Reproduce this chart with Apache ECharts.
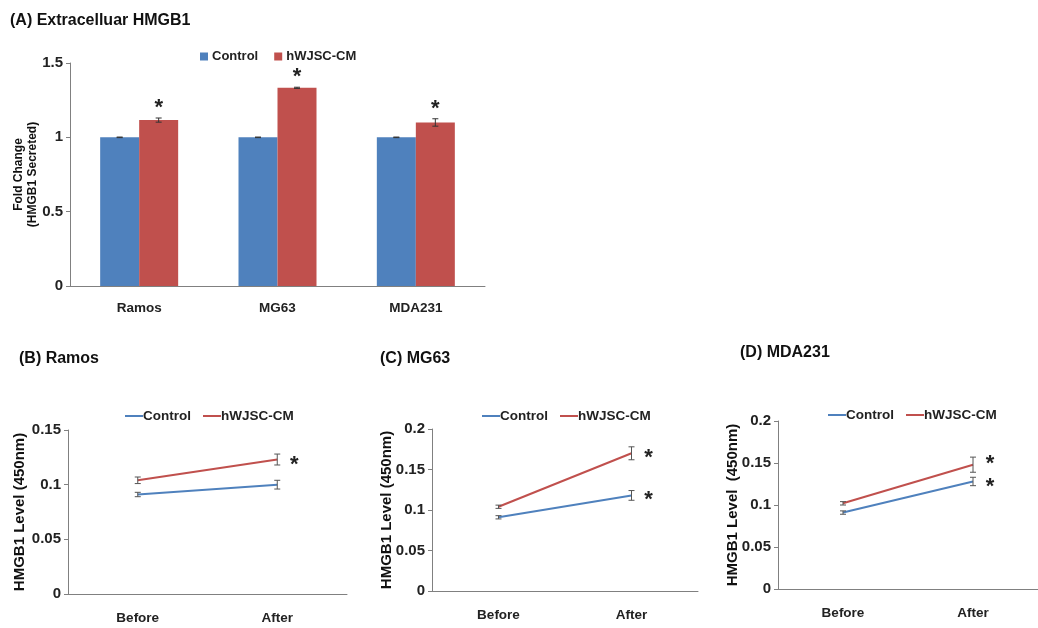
<!DOCTYPE html>
<html>
<head>
<meta charset="utf-8">
<title>HMGB1</title>
<script src="https://cdn.jsdelivr.net/npm/echarts@6/dist/echarts.min.js"></script>
<style>
  html, body { margin: 0; padding: 0; background: #fff; }
  #chart { width: 1038px; height: 628px; }
</style>
</head>
<body>
<div id="chart"></div>
<script>
// (A) extracellular HMGB1, fold change per cell line
const barCategories = ['Ramos', 'MG63', 'MDA231'];
const barControl = [1, 1, 1];
const barControlErr = [0.002, 0.002, 0.002];
const barTreated = [1.116, 1.333, 1.10];
const barTreatedErr = [0.014, 0.004, 0.025];
const barTreatedStar = [1, 1, 1];
const barTicks = { min: 0, max: 1.5, interval: 0.5 };

// (B)-(D) HMGB1 level before / after
const timeCategories = ['Before', 'After'];
const ramosControl = [0.091, 0.100];
const ramosControlErr = [0.002, 0.004];
const ramosControlStar = [0, 0];
const ramosTreated = [0.104, 0.123];
const ramosTreatedErr = [0.003, 0.005];
const ramosTreatedStar = [0, 1];

const mg63Control = [0.091, 0.118];
const mg63ControlErr = [0.002, 0.006];
const mg63ControlStar = [0, 1];
const mg63Treated = [0.104, 0.170];
const mg63TreatedErr = [0.002, 0.008];
const mg63TreatedStar = [0, 1];

const mdaControl = [0.091, 0.128];
const mdaControlErr = [0.002, 0.005];
const mdaControlStar = [0, 1];
const mdaTreated = [0.102, 0.148];
const mdaTreatedErr = [0.002, 0.009];
const mdaTreatedStar = [0, 1];

const lineTicksB = { min: 0, max: 0.15, interval: 0.05 };
const lineTicksCD = { min: 0, max: 0.2, interval: 0.05 };

const BLUE = '#4f81bd';
const RED = '#c0504d';
const FONT = "'Liberation Sans', Arial, sans-serif";
const BAR_W = 39;

const chart = echarts.init(document.getElementById('chart'), null, { renderer: 'canvas' });

// error bars with caps, plus a significance asterisk where flagged
function errorSeries(axis, values, errs, stars, o) {
  return {
    type: 'custom',
    xAxisIndex: axis,
    yAxisIndex: axis,
    z: 10,
    silent: true,
    data: values.map((v, i) => [i, v, errs[i], stars[i]]),
    renderItem(params, api) {
      const i = api.value(0), v = api.value(1), e = api.value(2), s = api.value(3);
      const top = api.coord([i, v + e]);
      const bot = api.coord([i, v - e]);
      const mid = api.coord([i, v]);
      const x = top[0] + o.dx;
      const cw = o.cap;
      const line = { stroke: o.color, lineWidth: 1 };
      const children = [
        { type: 'line', shape: { x1: x, y1: top[1], x2: x, y2: bot[1] }, style: line },
        { type: 'line', shape: { x1: x - cw, y1: top[1], x2: x + cw, y2: top[1] }, style: line },
        { type: 'line', shape: { x1: x - cw, y1: bot[1], x2: x + cw, y2: bot[1] }, style: line }
      ];
      if (s) {
        const sx = o.starAbove ? x : x + o.starDx;
        const sy = o.starAbove ? top[1] - o.starGap : mid[1] + (o.starDy || 0);
        children.push({
          type: 'text', x: sx, y: sy,
          style: { text: '*', fill: '#222', font: 'bold 22px ' + FONT, align: 'center', verticalAlign: 'middle' }
        });
      }
      return { type: 'group', children };
    }
  };
}

function lineSeries(axis, name, values, color) {
  return {
    type: 'line', name, xAxisIndex: axis, yAxisIndex: axis,
    data: values, symbol: 'none', smooth: false,
    lineStyle: { color, width: 2 }, itemStyle: { color }, z: 5
  };
}

const grids = [
  { left: 70, top: 63, width: 415, height: 223 },
  { left: 68, top: 430, width: 279, height: 164 },
  { left: 432, top: 429, width: 266, height: 162 },
  { left: 778, top: 421, width: 267, height: 168 }
];

const axisLine = { lineStyle: { color: '#808080', width: 1 } };

function xAxisFor(i, data) {
  return {
    type: 'category', gridIndex: i, data,
    axisLine: axisLine, axisTick: { show: false },
    axisLabel: { margin: i === 0 ? 15 : 17, color: '#222', fontFamily: FONT, fontSize: 13.5, fontWeight: 'bold' },
    splitLine: { show: false }
  };
}

function yAxisFor(i, ticks, name, gap, fs) {
  return Object.assign({
    type: 'value', gridIndex: i,
    name, nameLocation: 'middle', nameRotate: 90, nameGap: gap,
    nameMoveOverlap: false,
    nameTextStyle: { fontFamily: FONT, fontWeight: 'bold', fontSize: fs, color: '#111', lineHeight: fs + 2 },
    axisLine: Object.assign({ show: true }, axisLine),
    axisTick: { show: true, length: 4, lineStyle: { color: '#808080' } },
    axisLabel: { margin: 7, color: '#222', fontFamily: FONT, fontSize: 15, fontWeight: 'bold' },
    splitLine: { show: false }
  }, ticks);
}

function legendFor(left, top, kind) {
  const rect = kind === 'bar';
  return {
    left, top, orient: 'horizontal',
    itemGap: rect ? 16 : 12,
    itemWidth: rect ? 8 : 18, itemHeight: rect ? 8 : 2,
    icon: 'rect',
    textStyle: { fontFamily: FONT, fontWeight: 'bold', fontSize: rect ? 13 : 13.5, color: '#222', padding: [0, 0, 0, rect ? -1 : -5] },
    data: [
      { name: 'Control', itemStyle: { color: BLUE } },
      { name: 'hWJSC-CM', itemStyle: { color: RED } }
    ],
    selectedMode: false
  };
}

const titleStyle = { fontFamily: FONT, fontWeight: 'bold', fontSize: 16, color: '#111' };
const lineErr = { color: '#555', cap: 3, dx: 0, starDx: 17, starDy: 5 };

const option = {
  backgroundColor: '#fff',
  animation: false,
  title: [
    { text: '(A) Extracelluar HMGB1', left: 5, top: 8, textStyle: titleStyle },
    { text: '(B) Ramos', left: 14, top: 346, textStyle: titleStyle },
    { text: '(C) MG63', left: 375, top: 346, textStyle: titleStyle },
    { text: '(D) MDA231', left: 735, top: 340, textStyle: titleStyle }
  ],
  legend: [
    legendFor(195, 45, 'bar'),
    legendFor(120, 404, 'line'),
    legendFor(477, 404, 'line'),
    legendFor(823, 403, 'line')
  ],
  grid: grids,
  xAxis: [
    xAxisFor(0, barCategories),
    xAxisFor(1, timeCategories),
    xAxisFor(2, timeCategories),
    xAxisFor(3, timeCategories)
  ],
  yAxis: [
    yAxisFor(0, barTicks, 'Fold Change\n(HMGB1 Secreted)', 30, 12),
    yAxisFor(1, lineTicksB, 'HMGB1 Level (450nm)', 40, 15),
    yAxisFor(2, lineTicksCD, 'HMGB1 Level (450nm)', 37, 15),
    yAxisFor(3, lineTicksCD, 'HMGB1 Level  (450nm)', 37, 15)
  ],
  series: [
    { type: 'bar', name: 'Control', xAxisIndex: 0, yAxisIndex: 0, data: barControl,
      barWidth: BAR_W, barGap: '0%', itemStyle: { color: BLUE } },
    { type: 'bar', name: 'hWJSC-CM', xAxisIndex: 0, yAxisIndex: 0, data: barTreated,
      barWidth: BAR_W, barGap: '0%', itemStyle: { color: RED } },
    errorSeries(0, barControl, barControlErr, [0, 0, 0], { color: '#333', cap: 3, dx: -BAR_W / 2 }),
    errorSeries(0, barTreated, barTreatedErr, barTreatedStar, { color: '#333', cap: 3, dx: BAR_W / 2, starAbove: true, starGap: 10 }),

    lineSeries(1, 'Control', ramosControl, BLUE),
    lineSeries(1, 'hWJSC-CM', ramosTreated, RED),
    errorSeries(1, ramosControl, ramosControlErr, ramosControlStar, lineErr),
    errorSeries(1, ramosTreated, ramosTreatedErr, ramosTreatedStar, lineErr),

    lineSeries(2, 'Control', mg63Control, BLUE),
    lineSeries(2, 'hWJSC-CM', mg63Treated, RED),
    errorSeries(2, mg63Control, mg63ControlErr, mg63ControlStar, lineErr),
    errorSeries(2, mg63Treated, mg63TreatedErr, mg63TreatedStar, lineErr),

    lineSeries(3, 'Control', mdaControl, BLUE),
    lineSeries(3, 'hWJSC-CM', mdaTreated, RED),
    errorSeries(3, mdaControl, mdaControlErr, mdaControlStar, lineErr),
    errorSeries(3, mdaTreated, mdaTreatedErr, mdaTreatedStar, Object.assign({}, lineErr, { starDy: -1 }))
  ]
};

chart.setOption(option);
</script>
</body>
</html>
